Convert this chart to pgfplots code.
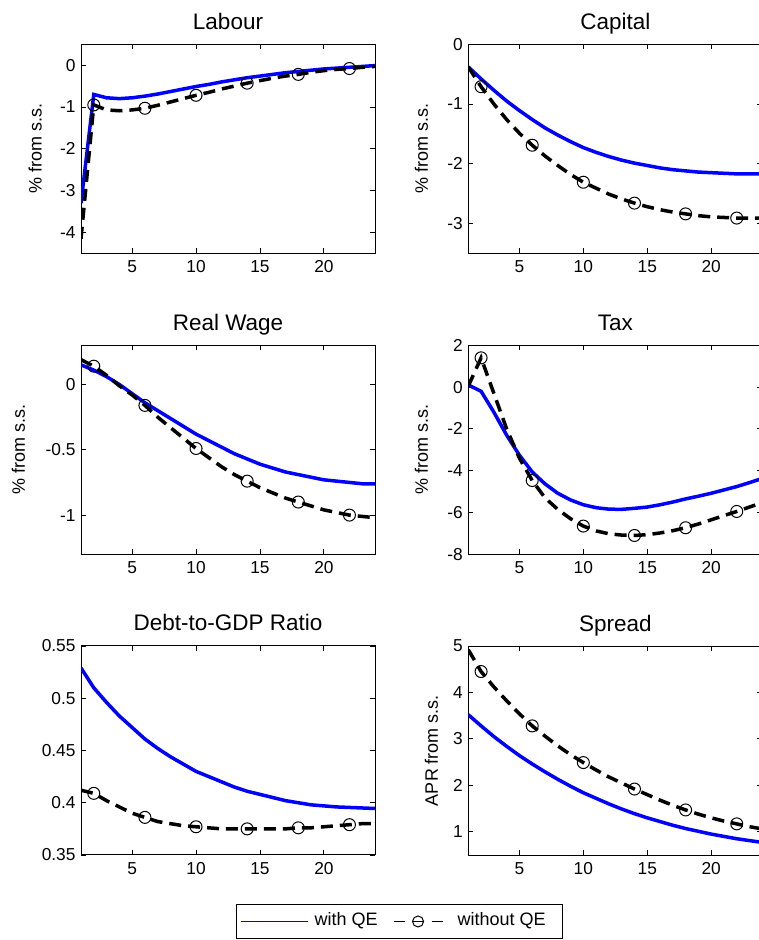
\documentclass[border=0pt]{standalone}
\usepackage{fontspec}
\setmainfont{Liberation Sans}
\usepackage{pgfplots}
\usepackage{pgfplotstable}
\pgfplotsset{compat=1.18}

\pgfplotstableread{
x qe noqe
1 -3.30 -4.15
2 -0.70 -0.95
3 -0.78 -1.07
4 -0.80 -1.09
5 -0.78 -1.07
6 -0.74 -1.03
7 -0.69 -0.96
8 -0.63 -0.88
9 -0.57 -0.80
10 -0.51 -0.72
11 -0.46 -0.65
12 -0.40 -0.57
13 -0.35 -0.50
14 -0.30 -0.43
15 -0.26 -0.37
16 -0.22 -0.31
17 -0.18 -0.26
18 -0.15 -0.22
19 -0.12 -0.17
20 -0.09 -0.13
21 -0.07 -0.10
22 -0.05 -0.08
23 -0.03 -0.05
24 -0.01 -0.03
}\labour

\pgfplotstableread{
x qe noqe
1 -0.38 -0.38
2 -0.58 -0.71
3 -0.77 -1.00
4 -0.95 -1.26
5 -1.11 -1.49
6 -1.26 -1.69
7 -1.40 -1.87
8 -1.52 -2.03
9 -1.63 -2.18
10 -1.73 -2.31
11 -1.81 -2.41
12 -1.88 -2.51
13 -1.94 -2.59
14 -1.99 -2.66
15 -2.03 -2.72
16 -2.07 -2.77
17 -2.10 -2.81
18 -2.12 -2.84
19 -2.14 -2.87
20 -2.15 -2.89
21 -2.16 -2.90
22 -2.17 -2.91
23 -2.17 -2.91
24 -2.17 -2.91
}\capital

\pgfplotstableread{
x qe noqe
1 0.15 0.19
2 0.11 0.14
3 0.06 0.07
4 0.00 -0.01
5 -0.07 -0.08
6 -0.14 -0.16
7 -0.20 -0.25
8 -0.26 -0.33
9 -0.32 -0.41
10 -0.38 -0.49
11 -0.43 -0.56
12 -0.48 -0.63
13 -0.53 -0.69
14 -0.57 -0.74
15 -0.61 -0.79
16 -0.64 -0.83
17 -0.67 -0.87
18 -0.69 -0.90
19 -0.71 -0.93
20 -0.73 -0.96
21 -0.74 -0.98
22 -0.75 -1.00
23 -0.76 -1.01
24 -0.76 -1.02
}\wage

\pgfplotstableread{
x qe noqe
1 0.10 0.05
2 -0.20 1.40
3 -1.20 -0.30
4 -2.30 -2.00
5 -3.26 -3.40
6 -4.06 -4.47
7 -4.63 -5.30
8 -5.08 -5.85
9 -5.40 -6.30
10 -5.63 -6.65
11 -5.77 -6.88
12 -5.84 -7.02
13 -5.85 -7.08
14 -5.80 -7.10
15 -5.74 -7.06
16 -5.63 -6.98
17 -5.50 -6.87
18 -5.35 -6.73
19 -5.22 -6.55
20 -5.08 -6.35
21 -4.92 -6.15
22 -4.76 -5.95
23 -4.57 -5.74
24 -4.37 -5.52
}\tax

\pgfplotstableread{
x qe noqe
1 0.529 0.412
2 0.510 0.409
3 0.496 0.402
4 0.483 0.396
5 0.472 0.390
6 0.461 0.386
7 0.452 0.382
8 0.444 0.380
9 0.437 0.378
10 0.430 0.377
11 0.425 0.376
12 0.420 0.375
13 0.415 0.375
14 0.411 0.375
15 0.408 0.375
16 0.405 0.375
17 0.402 0.375
18 0.400 0.376
19 0.398 0.376
20 0.397 0.377
21 0.396 0.378
22 0.3955 0.379
23 0.395 0.380
24 0.3945 0.380
}\debt

\pgfplotstableread{
x qe noqe
1 3.52 4.92
2 3.28 4.45
3 3.05 4.12
4 2.84 3.82
5 2.64 3.54
6 2.46 3.28
7 2.29 3.06
8 2.13 2.85
9 1.98 2.66
10 1.84 2.49
11 1.72 2.33
12 1.60 2.18
13 1.49 2.05
14 1.39 1.92
15 1.30 1.80
16 1.22 1.68
17 1.14 1.57
18 1.07 1.47
19 1.01 1.38
20 0.95 1.30
21 0.90 1.23
22 0.85 1.17
23 0.81 1.11
24 0.77 1.06
}\spread

\pgfplotsset{
  myax/.style={
    scale only axis, width=294pt, height=209pt,
    xmin=1, xmax=24, xtick={5,10,15,20},
    anchor=south west,
    tick align=inside, major tick length=5pt,
    axis line style={line width=1pt},
    every tick/.style={black, line width=0.8pt},
    tick label style={font=\fontsize{17.3}{20}\selectfont},
    xticklabel style={yshift=-4pt},
    yticklabel style={xshift=-2pt},
    /pgf/number format/assume math mode=true,
    title style={font=\fontsize{22.5}{27}\selectfont, at={(axis description cs:0.5,1)}, anchor=base, yshift=9pt},
    ylabel style={font=\fontsize{18}{21}\selectfont, anchor=center},
  },
  qe/.style={blue, line width=3.5pt},
  noqe/.style={black, line width=3.5pt, dash pattern=on 12pt off 7pt,
    mark=o, mark size=6pt, mark repeat=4, mark phase=2,
    mark options={solid, line width=1pt, fill=none}},
}

\begin{document}
\begin{tikzpicture}
\useasboundingbox (0,0) rectangle (759pt,940pt);

% Labour
\begin{axis}[myax, at={(81pt,686.7pt)}, title={Labour},
  ymin=-4.5, ymax=0.5, ytick={-4,-3,-2,-1,0},
  ylabel={\% from s.s.}, ylabel style={at={(axis description cs:-0.156,0.5)}}]
\addplot[qe] table[x=x,y=qe] {\labour};
\addplot[noqe] table[x=x,y=noqe] {\labour};
\end{axis}

% Capital
\begin{axis}[myax, at={(468.3pt,686.7pt)}, title={Capital},
  ymin=-3.5, ymax=0, ytick={-3,-2,-1,0},
  ylabel={\% from s.s.}, ylabel style={at={(axis description cs:-0.159,0.5)}}]
\addplot[qe] table[x=x,y=qe] {\capital};
\addplot[noqe] table[x=x,y=noqe] {\capital};
\end{axis}

% Real Wage
\begin{axis}[myax, at={(81pt,385.7pt)}, title={Real Wage},
  ymin=-1.3, ymax=0.3, ytick={-1,-0.5,0},
  ylabel={\% from s.s.}, ylabel style={at={(axis description cs:-0.213,0.5)}}]
\addplot[qe] table[x=x,y=qe] {\wage};
\addplot[noqe] table[x=x,y=noqe] {\wage};
\end{axis}

% Tax
\begin{axis}[myax, at={(468.3pt,385.7pt)}, title={Tax},
  ymin=-8, ymax=2, ytick={-8,-6,-4,-2,0,2},
  ylabel={\% from s.s.}, ylabel style={at={(axis description cs:-0.159,0.5)}}]
\addplot[qe] table[x=x,y=qe] {\tax};
\addplot[noqe] table[x=x,y=noqe] {\tax};
\end{axis}

% Debt-to-GDP
\begin{axis}[myax, at={(81pt,85pt)}, title={Debt-to-GDP Ratio},
  ymin=0.35, ymax=0.55, ytick={0.35,0.4,0.45,0.5,0.55}]
\addplot[qe] table[x=x,y=qe] {\debt};
\addplot[noqe] table[x=x,y=noqe] {\debt};
\end{axis}

% Spread
\begin{axis}[myax, at={(468.3pt,85pt)}, title={Spread},
  ymin=0.5, ymax=5, ytick={1,2,3,4,5},
  ylabel={APR from s.s.}, ylabel style={at={(axis description cs:-0.125,0.5)}},
  legend columns=2,
  legend style={at={(axis description cs:-0.790,-0.2344)}, anchor=north west,
    draw=black, line width=1pt, fill=white,
    font=\fontsize{18}{21}\selectfont,
    inner xsep=4pt, inner ysep=8.5pt,
    nodes={inner sep=0pt, text height=13pt, text depth=4pt, anchor=west},
    /tikz/every odd column/.append style={column sep=6pt},
    /tikz/every even column/.append style={column sep=7pt}},
]
\addlegendimage{legend image code/.code={
  \draw[draw=blue, line width=1pt] (0pt,0pt) -- (67pt,0pt);}}
\addlegendentry{with QE}
\addlegendimage{legend image code/.code={
  \draw[draw=black, line width=1pt] (9pt,0pt) -- (20pt,0pt);
  \draw[draw=black, line width=1pt] (47pt,0pt) -- (58pt,0pt);
  \draw[draw=black, line width=1pt] (33.5pt,0pt) circle (5.5pt);
  \draw[draw=black, line width=1pt] (28pt,0pt) -- (39pt,0pt);
  \path[draw=none, fill=none] (0pt,-1pt) rectangle (67pt,1pt);}}
\addlegendentry{without QE\rule{13pt}{0pt}}
\addplot[qe, forget plot] table[x=x,y=qe] {\spread};
\addplot[noqe, forget plot] table[x=x,y=noqe] {\spread};
\end{axis}
\end{tikzpicture}
\end{document}
